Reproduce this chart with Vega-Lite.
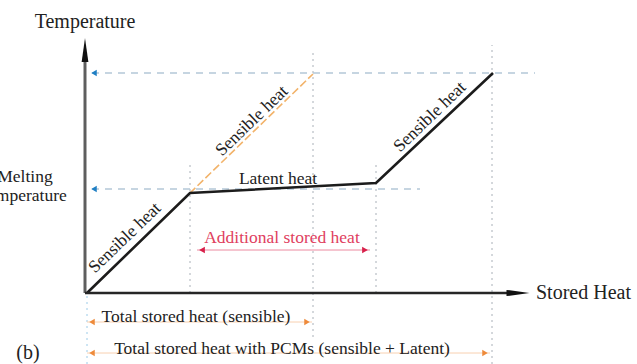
{
  "$schema": "https://vega.github.io/schema/vega-lite/v6.json",
  "width": 637,
  "height": 364,
  "padding": 0,
  "autosize": {"type": "none"},
  "background": "white",
  "config": {"view": {"stroke": null}, "font": "Liberation Serif"},
  "datasets": {
    "segs": [
      {"id": "curve", "style": "black", "x": 87, "y": 71},
      {"id": "curve", "style": "black", "x": 190, "y": 171},
      {"id": "curve", "style": "black", "x": 376, "y": 181},
      {"id": "curve", "style": "black", "x": 493, "y": 291},
      {"id": "sens", "style": "orange", "x": 87, "y": 71},
      {"id": "sens", "style": "orange", "x": 190, "y": 171},
      {"id": "sens", "style": "orange", "x": 313, "y": 290},
      {"id": "yaxis", "style": "yaxis", "x": 85, "y": 71},
      {"id": "yaxis", "style": "yaxis", "x": 85, "y": 304},
      {"id": "xaxis", "style": "xaxis", "x": 85, "y": 71},
      {"id": "xaxis", "style": "xaxis", "x": 510, "y": 71},
      {"id": "b1", "style": "blue", "x": 92, "y": 291},
      {"id": "b1", "style": "blue", "x": 535, "y": 291},
      {"id": "b2", "style": "blue", "x": 92, "y": 175},
      {"id": "b2", "style": "blue", "x": 420, "y": 175},
      {"id": "v1", "style": "grey", "x": 190, "y": 71},
      {"id": "v1", "style": "grey", "x": 190, "y": 201},
      {"id": "v2", "style": "grey", "x": 313, "y": 27},
      {"id": "v2", "style": "grey", "x": 313, "y": 314},
      {"id": "v3", "style": "grey", "x": 376, "y": 71},
      {"id": "v3", "style": "grey", "x": 376, "y": 201},
      {"id": "v4", "style": "grey", "x": 492, "y": 0},
      {"id": "v4", "style": "grey", "x": 492, "y": 319},
      {"id": "v0", "style": "lblue", "x": 87, "y": 0},
      {"id": "v0", "style": "lblue", "x": 87, "y": 69},
      {"id": "red", "style": "red", "x": 197, "y": 114},
      {"id": "red", "style": "red", "x": 370, "y": 114},
      {"id": "o1", "style": "oarrow", "x": 87, "y": 42},
      {"id": "o1", "style": "oarrow", "x": 312, "y": 42},
      {"id": "o2", "style": "oarrow", "x": 87, "y": 11},
      {"id": "o2", "style": "oarrow", "x": 490, "y": 11}
    ],
    "heads": [
      {"group": "axis", "dir": "up", "x": 85, "y": 314},
      {"group": "axis", "dir": "right", "x": 518, "y": 71},
      {"group": "blue", "dir": "left", "x": 94, "y": 291},
      {"group": "blue", "dir": "left", "x": 94, "y": 175},
      {"group": "red", "dir": "left", "x": 202, "y": 114},
      {"group": "red", "dir": "right", "x": 365, "y": 114},
      {"group": "orange", "dir": "left", "x": 92, "y": 42},
      {"group": "orange", "dir": "right", "x": 307, "y": 42},
      {"group": "orange", "dir": "left", "x": 92, "y": 11},
      {"group": "orange", "dir": "right", "x": 485, "y": 11}
    ],
    "labels": [
      {"group": "title", "text": "Temperature", "x": 85, "y": 342},
      {"group": "side", "text": "Melting", "x": 25, "y": 187},
      {"group": "side", "text": "temperature", "x": 25, "y": 168},
      {"group": "title", "text": "(b)", "x": 28, "y": 11},
      {"group": "stored", "text": "Stored Heat", "x": 536, "y": 71},
      {"group": "plain", "text": "Latent heat", "x": 278, "y": 185},
      {"group": "red", "text": "Additional stored heat", "x": 282, "y": 126},
      {"group": "plain", "text": "Total stored heat (sensible)", "x": 196, "y": 47},
      {"group": "plain", "text": "Total stored heat with PCMs (sensible + Latent)", "x": 282, "y": 15},
      {"group": "rot", "text": "Sensible heat", "x": 125, "y": 126},
      {"group": "rot", "text": "Sensible heat", "x": 252, "y": 243},
      {"group": "rot", "text": "Sensible heat", "x": 430, "y": 247}
    ]
  },
  "encoding": {
    "x": {"field": "x", "type": "quantitative", "scale": {"domain": [0, 637], "nice": false, "zero": false}, "axis": null},
    "y": {"field": "y", "type": "quantitative", "scale": {"domain": [0, 364], "nice": false, "zero": false}, "axis": null}
  },
  "layer": [
    {"data": {"name": "segs"}, "transform": [{"filter": "datum.style === 'grey'"}], "mark": {"type": "line", "color": "#a9b0b8", "strokeWidth": 1, "strokeDash": [2, 4]}, "encoding": {"detail": {"field": "id"}}},
    {"data": {"name": "segs"}, "transform": [{"filter": "datum.style === 'lblue'"}], "mark": {"type": "line", "color": "#9ccbe8", "strokeWidth": 1, "strokeDash": [2, 4]}, "encoding": {"detail": {"field": "id"}}},
    {"data": {"name": "segs"}, "transform": [{"filter": "datum.style === 'blue'"}], "mark": {"type": "line", "color": "#b4c8d8", "strokeWidth": 1.3, "strokeDash": [7, 6]}, "encoding": {"detail": {"field": "id"}}},
    {"data": {"name": "segs"}, "transform": [{"filter": "datum.style === 'orange'"}], "mark": {"type": "line", "color": "#f2b36a", "strokeWidth": 1.6, "strokeDash": [8, 3]}, "encoding": {"detail": {"field": "id"}}},
    {"data": {"name": "segs"}, "transform": [{"filter": "datum.style === 'red'"}], "mark": {"type": "line", "color": "#ec8aa0", "strokeWidth": 1}, "encoding": {"detail": {"field": "id"}}},
    {"data": {"name": "segs"}, "transform": [{"filter": "datum.style === 'oarrow'"}], "mark": {"type": "line", "color": "#f8d0b0", "strokeWidth": 1}, "encoding": {"detail": {"field": "id"}}},
    {"data": {"name": "segs"}, "transform": [{"filter": "datum.style === 'black'"}], "mark": {"type": "line", "color": "#1c1c1c", "strokeWidth": 2.6, "strokeJoin": "miter"}, "encoding": {"detail": {"field": "id"}}},
    {"data": {"name": "segs"}, "transform": [{"filter": "datum.style === 'yaxis'"}], "mark": {"type": "line", "color": "#5e5e5e", "strokeWidth": 3}, "encoding": {"detail": {"field": "id"}}},
    {"data": {"name": "segs"}, "transform": [{"filter": "datum.style === 'xaxis'"}], "mark": {"type": "line", "color": "#262626", "strokeWidth": 2.6}, "encoding": {"detail": {"field": "id"}}},
    {"data": {"name": "heads"}, "transform": [{"filter": "datum.group === 'axis' && datum.dir === 'up'"}], "mark": {"type": "point", "shape": "M0,-1L0.28,1L-0.28,1Z", "filled": true, "color": "#111111", "size": 576, "opacity": 1}},
    {"data": {"name": "heads"}, "transform": [{"filter": "datum.group === 'axis' && datum.dir === 'right'"}], "mark": {"type": "point", "shape": "M1,0L-1,0.27L-1,-0.27Z", "filled": true, "color": "#111111", "size": 529, "opacity": 1}},
    {"data": {"name": "heads"}, "transform": [{"filter": "datum.group === 'blue'"}], "mark": {"type": "point", "shape": "triangle-left", "filled": true, "color": "#1f7fc4", "size": 40, "opacity": 1}},
    {"data": {"name": "heads"}, "transform": [{"filter": "datum.group === 'red' && datum.dir === 'left'"}], "mark": {"type": "point", "shape": "triangle-left", "filled": true, "color": "#d8204a", "size": 45, "opacity": 1}},
    {"data": {"name": "heads"}, "transform": [{"filter": "datum.group === 'red' && datum.dir === 'right'"}], "mark": {"type": "point", "shape": "triangle-right", "filled": true, "color": "#d8204a", "size": 45, "opacity": 1}},
    {"data": {"name": "heads"}, "transform": [{"filter": "datum.group === 'orange' && datum.dir === 'left'"}], "mark": {"type": "point", "shape": "triangle-left", "filled": true, "color": "#ee8a3a", "size": 40, "opacity": 1}},
    {"data": {"name": "heads"}, "transform": [{"filter": "datum.group === 'orange' && datum.dir === 'right'"}], "mark": {"type": "point", "shape": "triangle-right", "filled": true, "color": "#ee8a3a", "size": 40, "opacity": 1}},
    {"data": {"name": "labels"}, "transform": [{"filter": "datum.group === 'title'"}], "mark": {"type": "text", "font": "Liberation Serif", "fontSize": 20, "color": "#222222", "align": "center", "baseline": "middle"}, "encoding": {"text": {"field": "text"}}},
    {"data": {"name": "labels"}, "transform": [{"filter": "datum.group === 'side'"}], "mark": {"type": "text", "font": "Liberation Serif", "fontSize": 17.5, "color": "#222222", "align": "center", "baseline": "middle"}, "encoding": {"text": {"field": "text"}}},
    {"data": {"name": "labels"}, "transform": [{"filter": "datum.group === 'stored'"}], "mark": {"type": "text", "font": "Liberation Serif", "fontSize": 20, "color": "#222222", "align": "left", "baseline": "middle"}, "encoding": {"text": {"field": "text"}}},
    {"data": {"name": "labels"}, "transform": [{"filter": "datum.group === 'plain'"}], "mark": {"type": "text", "font": "Liberation Serif", "fontSize": 17.5, "color": "#222222", "align": "center", "baseline": "middle"}, "encoding": {"text": {"field": "text"}}},
    {"data": {"name": "labels"}, "transform": [{"filter": "datum.group === 'red'"}], "mark": {"type": "text", "font": "Liberation Serif", "fontSize": 17.5, "color": "#e0405e", "align": "center", "baseline": "middle"}, "encoding": {"text": {"field": "text"}}},
    {"data": {"name": "labels"}, "transform": [{"filter": "datum.group === 'rot'"}], "mark": {"type": "text", "font": "Liberation Serif", "fontSize": 17.5, "color": "#222222", "align": "center", "baseline": "middle", "angle": 316}, "encoding": {"text": {"field": "text"}}}
  ]
}
